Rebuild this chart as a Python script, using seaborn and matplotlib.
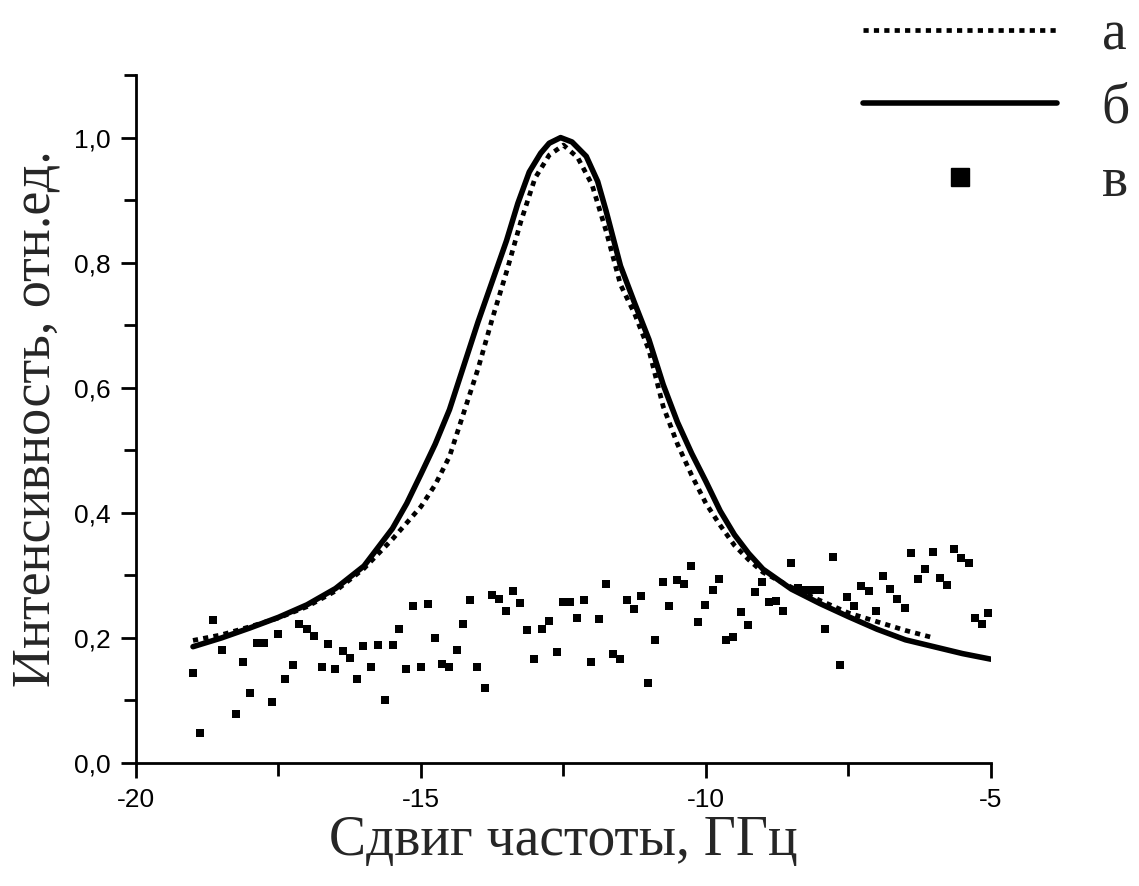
import numpy as np
import pandas as pd
import matplotlib
matplotlib.use('Agg')
import matplotlib.pyplot as plt
from matplotlib.lines import Line2D
from matplotlib.ticker import MultipleLocator, FuncFormatter
import seaborn as sns

# curve б (solid)
x_solid = [-19.0, -18.5, -18.0, -17.5, -17.0, -16.5, -16.0, -15.5, -15.25, -15.0,
           -14.75, -14.5, -14.25, -14.0, -13.75, -13.5, -13.3, -13.1, -12.9, -12.75,
           -12.55, -12.35, -12.1, -11.9, -11.75, -11.5, -11.25, -11.0, -10.75, -10.5,
           -10.25, -10.0, -9.75, -9.5, -9.25, -9.0, -8.5, -8.0, -7.5, -7.0,
           -6.5, -6.0, -5.5, -5.0]
y_solid = [0.186, 0.200, 0.216, 0.233, 0.253, 0.279, 0.315, 0.375, 0.415, 0.462,
           0.510, 0.565, 0.635, 0.705, 0.770, 0.835, 0.895, 0.945, 0.975, 0.991,
           1.000, 0.993, 0.970, 0.930, 0.882, 0.795, 0.735, 0.677, 0.605, 0.545,
           0.495, 0.450, 0.403, 0.365, 0.335, 0.310, 0.278, 0.255, 0.234, 0.214,
           0.197, 0.186, 0.175, 0.166]

# curve а (dotted)
x_dot = [-19.0, -18.5, -18.0, -17.5, -17.0, -16.5, -16.0, -15.5, -15.0, -14.75,
         -14.5, -14.25, -14.0, -13.75, -13.5, -13.25, -13.0, -12.75, -12.5, -12.25,
         -12.0, -11.75, -11.5, -11.25, -11.0, -10.75, -10.5, -10.25, -10.0, -9.75,
         -9.5, -9.25, -9.0, -8.5, -8.0, -7.5, -7.0, -6.5, -6.0]
y_dot = [0.196, 0.205, 0.218, 0.232, 0.250, 0.275, 0.311, 0.358, 0.410, 0.445,
         0.490, 0.560, 0.630, 0.710, 0.785, 0.865, 0.935, 0.972, 0.988, 0.968,
         0.925, 0.850, 0.765, 0.718, 0.660, 0.570, 0.510, 0.460, 0.415, 0.380,
         0.348, 0.325, 0.305, 0.281, 0.260, 0.240, 0.226, 0.212, 0.200]

# measured points в
x_pts = [-19.005, -18.872, -18.644, -18.491, -18.246, -18.128, -18.000, -17.882, -17.754, -17.614,
         -17.504, -17.381, -17.251, -17.135, -17.005, -16.877, -16.742, -16.626, -16.509, -16.374,
         -16.246, -16.128, -16.012, -15.882, -15.754, -15.626, -15.496, -15.381, -15.263, -15.135,
         -15.005, -14.877, -14.760, -14.632, -14.504, -14.374, -14.258, -14.140, -14.012, -13.882,
         -13.760, -13.632, -13.509, -13.391, -13.263, -13.135, -13.018, -12.882, -12.754, -12.609,
         -12.514, -12.386, -12.258, -12.140, -12.012, -11.882, -11.754, -11.637, -11.509, -11.381,
         -11.263, -11.135, -11.012, -10.889, -10.760, -10.644, -10.514, -10.386, -10.263, -10.146,
         -10.018, -9.882, -9.767, -9.649, -9.521, -9.391, -9.263, -9.146, -9.018, -8.900,
         -8.772, -8.644, -8.514, -8.386, -8.255, -8.123, -8.000, -7.907, -7.777, -7.649,
         -7.521, -7.404, -7.275, -7.146, -7.018, -6.889, -6.772, -6.644, -6.514, -6.398,
         -6.281, -6.153, -6.023, -5.895, -5.777, -5.649, -5.521, -5.391, -5.286, -5.158, -5.053]
y_pts = [0.144, 0.048, 0.228, 0.180, 0.078, 0.162, 0.112, 0.192, 0.192, 0.098,
         0.206, 0.134, 0.157, 0.222, 0.215, 0.203, 0.154, 0.190, 0.150, 0.179,
         0.168, 0.135, 0.187, 0.153, 0.189, 0.100, 0.188, 0.214, 0.150, 0.251,
         0.153, 0.254, 0.200, 0.158, 0.153, 0.181, 0.222, 0.261, 0.153, 0.120,
         0.269, 0.262, 0.243, 0.275, 0.256, 0.212, 0.166, 0.214, 0.227, 0.178,
         0.257, 0.257, 0.232, 0.260, 0.162, 0.230, 0.286, 0.174, 0.166, 0.260,
         0.246, 0.267, 0.128, 0.197, 0.290, 0.251, 0.292, 0.286, 0.315, 0.225,
         0.252, 0.276, 0.294, 0.196, 0.201, 0.242, 0.220, 0.274, 0.289, 0.258,
         0.259, 0.243, 0.320, 0.280, 0.277, 0.277, 0.277, 0.214, 0.330, 0.156,
         0.266, 0.251, 0.283, 0.275, 0.243, 0.299, 0.278, 0.262, 0.248, 0.336,
         0.294, 0.310, 0.338, 0.296, 0.285, 0.342, 0.328, 0.320, 0.232, 0.222, 0.240]

x_ticks = [-20, -15, -10, -5]
y_ticks = [0.0, 0.2, 0.4, 0.6, 0.8, 1.0]
legend_labels = ["а", "б", "в"]

sns.set_theme(style="ticks")
plt.rcParams['font.family'] = ['Liberation Sans', 'DejaVu Sans']
serif = ['Liberation Serif', 'DejaVu Serif']

fig, ax = plt.subplots(figsize=(11.39, 8.86), dpi=100)
fig.subplots_adjust(left=0.1194, right=0.870, bottom=0.1388, top=0.9153)

df_s = pd.DataFrame({'x': x_solid, 'y': y_solid})
df_d = pd.DataFrame({'x': x_dot, 'y': y_dot})
df_p = pd.DataFrame({'x': x_pts, 'y': y_pts})

sns.scatterplot(data=df_p, x='x', y='y', ax=ax, marker='s', s=40, color='black',
                linewidth=0, zorder=2)
sns.lineplot(data=df_d, x='x', y='y', ax=ax, color='black', lw=3.4, errorbar=None,
             linestyle=(0, (1.1, 1.1)), dash_capstyle='butt', zorder=3)
sns.lineplot(data=df_s, x='x', y='y', ax=ax, color='black', lw=4.0, errorbar=None,
             zorder=4)

ax.set_xlim(-20, -5)
ax.set_ylim(0, 1.1)
ax.set_xticks(x_ticks)
ax.set_yticks(y_ticks)
ax.xaxis.set_minor_locator(MultipleLocator(2.5))
ax.yaxis.set_minor_locator(MultipleLocator(0.1))
ax.xaxis.set_major_formatter(FuncFormatter(lambda v, p: "%d" % v))
ax.yaxis.set_major_formatter(FuncFormatter(lambda v, p: ("%.1f" % v).replace('.', ',')))

ax.tick_params(axis='both', which='major', length=11, width=2.0, labelsize=19, pad=7,
               color='black', labelcolor='black')
ax.tick_params(axis='both', which='minor', length=9, width=2.0, color='black')
for side in ['left', 'bottom']:
    ax.spines[side].set_linewidth(2.0)
    ax.spines[side].set_color('black')
sns.despine(ax=ax)

ax.set_xlabel("Сдвиг частоты, ГГц", family=serif, fontsize=40, labelpad=2)
ax.set_ylabel("Интенсивность, отн.ед.", family=serif, fontsize=39)
ax.yaxis.set_label_coords(-0.087, 0.5)

handles = [Line2D([], [], color='black', lw=3.4, linestyle=(0, (1.1, 1.1)), dash_capstyle='butt'),
           Line2D([], [], color='black', lw=4.0),
           Line2D([], [], color='black', lw=0, marker='s', markersize=13)]
fig.legend(handles, legend_labels, loc='upper right', bbox_to_anchor=(0.997, 0.996),
           frameon=False, prop={'family': serif, 'size': 40}, handlelength=3.5,
           handletextpad=0.8, labelspacing=0.39, borderpad=0.1, borderaxespad=0)

fig.savefig("out.png", dpi=100)
